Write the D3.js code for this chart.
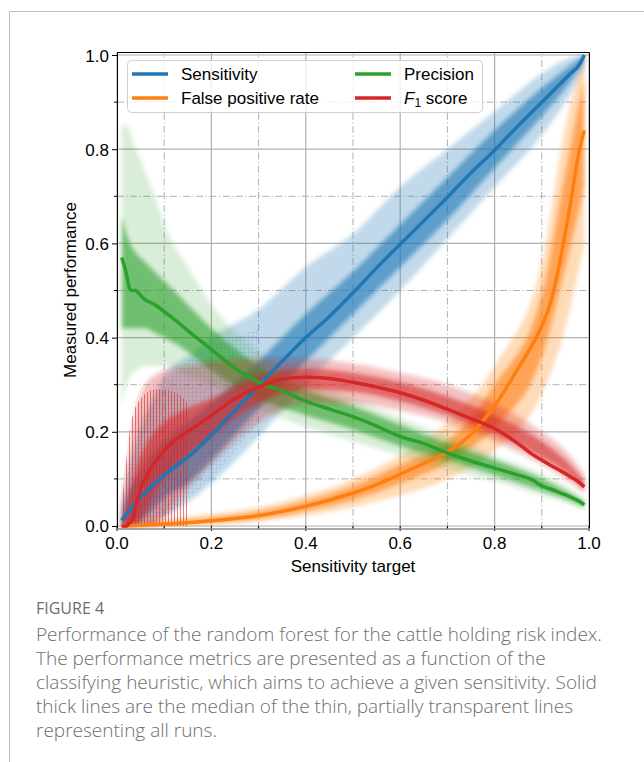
<!DOCTYPE html>
<html>
<head>
<meta charset="utf-8">
<script src="https://cdn.jsdelivr.net/npm/d3@7"></script>
<style>
  body { margin: 0; background: #fff; }
  svg { display: block; }
</style>
</head>
<body>
<div id="chart"></div>
<script>
/* medians */
var xMed = [0.01, 0.02, 0.025, 0.03, 0.035, 0.04, 0.045, 0.05, 0.06, 0.07, 0.08, 0.1, 0.12, 0.15,
            0.2, 0.25, 0.3, 0.35, 0.4, 0.45, 0.5, 0.55, 0.6, 0.65, 0.7, 0.75, 0.8, 0.85,
            0.88, 0.9, 0.92, 0.94, 0.96, 0.98, 0.99];
var sensitivity = [0.012, 0.025, 0.031, 0.038, 0.044, 0.05, 0.056, 0.062, 0.07, 0.08, 0.09, 0.108, 0.124, 0.146,
                   0.193, 0.245, 0.298, 0.35, 0.4, 0.445, 0.495, 0.548, 0.598, 0.648, 0.698, 0.75, 0.798, 0.85,
                   0.88, 0.9, 0.92, 0.94, 0.96, 0.98, 1.0];
var falsePositive = [0, 0, 0.001, 0.001, 0.001, 0.002, 0.002, 0.002, 0.002, 0.003, 0.003, 0.004, 0.005, 0.007,
                     0.011, 0.016, 0.022, 0.031, 0.042, 0.055, 0.07, 0.088, 0.11, 0.133, 0.157, 0.195, 0.255, 0.335,
                     0.385, 0.425, 0.48, 0.57, 0.68, 0.8, 0.84];
var precision = [0.57, 0.535, 0.51, 0.5, 0.5, 0.5, 0.495, 0.49, 0.48, 0.475, 0.47, 0.455, 0.44, 0.415,
                 0.375, 0.335, 0.305, 0.287, 0.265, 0.248, 0.232, 0.212, 0.19, 0.175, 0.155, 0.138, 0.123, 0.108,
                 0.098, 0.085, 0.078, 0.07, 0.062, 0.052, 0.045];
var f1 = [0, 0, 0.005, 0.01, 0.02, 0.045, 0.06, 0.08, 0.1, 0.12, 0.135, 0.16, 0.18, 0.2,
          0.235, 0.27, 0.295, 0.312, 0.316, 0.313, 0.305, 0.295, 0.283, 0.267, 0.248, 0.228, 0.207, 0.175,
          0.152, 0.14, 0.128, 0.117, 0.105, 0.092, 0.083];

/* spread of the individual runs: outer (faint) and inner (dense) envelopes */
var xBand = [0.01, 0.02, 0.04, 0.06, 0.08, 0.1, 0.15, 0.2, 0.3, 0.4, 0.5, 0.6, 0.7, 0.8, 0.9, 0.95, 0.99];
var sensOutLo = [0, 0, 0, 0, 0.01, 0.02, 0.05, 0.09, 0.19, 0.3, 0.4, 0.5, 0.61, 0.72, 0.83, 0.9, 0.97];
var sensOutHi = [0.05, 0.1, 0.18, 0.24, 0.28, 0.32, 0.36, 0.4, 0.46, 0.55, 0.62, 0.72, 0.8, 0.88, 0.96, 0.99, 1.0];
var sensInLo = [0, 0, 0.01, 0.02, 0.04, 0.06, 0.09, 0.14, 0.25, 0.35, 0.45, 0.55, 0.65, 0.76, 0.87, 0.93, 0.985];
var sensInHi = [0.03, 0.06, 0.1, 0.13, 0.16, 0.18, 0.22, 0.26, 0.35, 0.45, 0.54, 0.64, 0.74, 0.84, 0.93, 0.97, 1.0];
var fprOutLo = [0, 0, 0, 0, 0, 0.001, 0.002, 0.004, 0.01, 0.022, 0.04, 0.065, 0.1, 0.16, 0.28, 0.42, 0.6];
var fprOutHi = [0.005, 0.006, 0.008, 0.01, 0.012, 0.014, 0.02, 0.026, 0.04, 0.065, 0.1, 0.15, 0.22, 0.34, 0.56, 0.85, 1.0];
var fprInLo = [0, 0, 0, 0.001, 0.002, 0.003, 0.005, 0.007, 0.015, 0.032, 0.055, 0.09, 0.135, 0.21, 0.36, 0.55, 0.72];
var fprInHi = [0.002, 0.003, 0.004, 0.006, 0.007, 0.008, 0.012, 0.017, 0.03, 0.053, 0.085, 0.13, 0.18, 0.3, 0.49, 0.75, 0.95];
var precOutLo = [0.25, 0.3, 0.33, 0.34, 0.34, 0.34, 0.32, 0.3, 0.25, 0.21, 0.18, 0.15, 0.12, 0.095, 0.065, 0.05, 0.035];
var precOutHi = [0.85, 0.85, 0.8, 0.75, 0.7, 0.64, 0.55, 0.47, 0.37, 0.31, 0.27, 0.23, 0.19, 0.15, 0.11, 0.085, 0.058];
var precInLo = [0.42, 0.42, 0.42, 0.42, 0.41, 0.4, 0.37, 0.33, 0.27, 0.235, 0.205, 0.17, 0.14, 0.108, 0.075, 0.058, 0.04];
var precInHi = [0.66, 0.62, 0.58, 0.56, 0.54, 0.52, 0.47, 0.42, 0.34, 0.29, 0.255, 0.215, 0.175, 0.14, 0.1, 0.075, 0.052];
var f1OutLo = [0, 0, 0, 0, 0, 0.02, 0.08, 0.13, 0.22, 0.26, 0.26, 0.245, 0.22, 0.18, 0.13, 0.1, 0.07];
var f1OutHi = [0.05, 0.12, 0.25, 0.3, 0.32, 0.33, 0.34, 0.35, 0.355, 0.355, 0.345, 0.325, 0.3, 0.26, 0.2, 0.16, 0.11];
var f1InLo = [0, 0, 0, 0.03, 0.07, 0.1, 0.15, 0.19, 0.26, 0.29, 0.285, 0.265, 0.235, 0.195, 0.145, 0.115, 0.078];
var f1InHi = [0.01, 0.04, 0.12, 0.17, 0.2, 0.22, 0.25, 0.27, 0.32, 0.335, 0.325, 0.305, 0.275, 0.235, 0.18, 0.14, 0.095];

/* step-like early runs, drawn as hatching */
var xHatchF1 = [0.01, 0.02, 0.03, 0.05, 0.08, 0.1, 0.13, 0.15];
var f1HatchHi = [0.04, 0.14, 0.22, 0.27, 0.29, 0.29, 0.28, 0.26];
var xHatchSens = [0.02, 0.05, 0.1, 0.15, 0.2, 0.25, 0.3];
var sensHatchLo = [0, 0, 0.02, 0.06, 0.1, 0.16, 0.22];
var sensHatchHi = [0.1, 0.2, 0.3, 0.35, 0.38, 0.4, 0.42];

var ticks = [0, 0.2, 0.4, 0.6, 0.8, 1.0];
var minorTicks = [0.1, 0.3, 0.5, 0.7, 0.9];

var colors = {sens: "#1f77b4", fpr: "#ff7f0e", prec: "#2ca02c", f1: "#d62728"};

var series = [
    {key: "sens", med: sensitivity, outLo: sensOutLo, outHi: sensOutHi, inLo: sensInLo, inHi: sensInHi},
    {key: "fpr", med: falsePositive, outLo: fprOutLo, outHi: fprOutHi, inLo: fprInLo, inHi: fprInHi},
    {key: "prec", med: precision, outLo: precOutLo, outHi: precOutHi, inLo: precInLo, inHi: precInHi},
    {key: "f1", med: f1, outLo: f1OutLo, outHi: f1OutHi, inLo: f1InLo, inHi: f1InHi}
];

var FONT = "'Liberation Sans', Arial, sans-serif";
var W = 644, H = 762;
var svg = d3.select("#chart").append("svg").attr("width", W).attr("height", H);
var defs = svg.append("defs");

/* page frame */
svg.append("path").attr("d", "M644,11.5H9.5V762").attr("fill", "none")
    .attr("stroke", "#bdbdbd").attr("stroke-width", 1);

var x = d3.scaleLinear().domain([0, 1]).range([117, 589]);
var y = d3.scaleLinear().domain([-0.0064, 1.0064]).range([529, 52]);

defs.append("clipPath").attr("id", "clip")
  .append("rect").attr("x", 117).attr("y", 52).attr("width", 472).attr("height", 477);
defs.append("filter").attr("id", "soft").attr("x", "-10%").attr("y", "-10%").attr("width", "120%").attr("height", "120%")
  .append("feGaussianBlur").attr("stdDeviation", 2);
var pv = defs.append("pattern").attr("id", "hatchRed").attr("patternUnits", "userSpaceOnUse")
    .attr("width", 3).attr("height", 10);
pv.append("line").attr("x1", 0.5).attr("x2", 0.5).attr("y1", 0).attr("y2", 10)
    .attr("stroke", colors.f1).attr("stroke-width", 1);
var pb = defs.append("pattern").attr("id", "hatchBlue").attr("patternUnits", "userSpaceOnUse")
    .attr("width", 4).attr("height", 4);
pb.append("path").attr("d", "M0.5,0V4M0,0.5H4").attr("stroke", colors.sens).attr("stroke-width", 0.7);

var plot = svg.append("g");

/* grid */
var grid = plot.append("g");
function vlines(vals, cls) {
    return grid.selectAll("line." + cls).data(vals).enter().append("line").attr("class", cls)
        .attr("x1", function(d) { return x(d); }).attr("x2", function(d) { return x(d); })
        .attr("y1", y.range()[0]).attr("y2", y.range()[1]);
}
function hlines(vals, cls) {
    return grid.selectAll("line." + cls).data(vals).enter().append("line").attr("class", cls)
        .attr("y1", function(d) { return y(d); }).attr("y2", function(d) { return y(d); })
        .attr("x1", x.range()[0]).attr("x2", x.range()[1]);
}
vlines(ticks, "vmaj").attr("stroke", "#b0b0b0").attr("stroke-width", 1.2);
hlines(ticks, "hmaj").attr("stroke", "#b0b0b0").attr("stroke-width", 1.2);
vlines(minorTicks, "vmin").attr("stroke", "#a8a8a8").attr("stroke-width", 0.9).attr("stroke-dasharray", "7,2.5,1.2,2.5");
hlines(minorTicks, "hmin").attr("stroke", "#a8a8a8").attr("stroke-width", 0.9).attr("stroke-dasharray", "7,2.5,1.2,2.5");

/* bands */
var marks = plot.append("g").attr("clip-path", "url(#clip)");
function band(xs, lo, hi) {
    return d3.area()
        .x(function(d, i) { return x(xs[i]); })
        .y0(function(d, i) { return y(lo[i]); })
        .y1(function(d, i) { return y(hi[i]); })
        .curve(d3.curveMonotoneX)(xs);
}
series.forEach(function(s) {
    var g = marks.append("g").attr("filter", "url(#soft)");
    g.append("path").attr("d", band(xBand, s.outLo, s.outHi))
        .attr("fill", colors[s.key]).attr("fill-opacity", s.key === "prec" ? 0.18 : 0.28);
    g.append("path").attr("d", band(xBand, s.inLo, s.inHi))
        .attr("fill", colors[s.key]).attr("fill-opacity", 0.6);
    if (s.key === "sens") {
        marks.append("path").attr("d", band(xHatchSens, sensHatchLo, sensHatchHi))
            .attr("fill", "url(#hatchBlue)").attr("opacity", 0.18);
    }
    if (s.key === "f1") {
        marks.append("path").attr("d", band(xHatchF1, xHatchF1.map(function() { return 0; }), f1HatchHi))
            .attr("fill", "url(#hatchRed)").attr("opacity", 0.6);
    }
});

/* medians */
var line = function(vals) {
    return d3.line()
        .x(function(d, i) { return x(xMed[i]); })
        .y(function(d) { return y(d); })
        .curve(d3.curveMonotoneX)(vals);
};
series.forEach(function(s) {
    marks.append("path").attr("d", line(s.med))
        .attr("fill", "none").attr("stroke", colors[s.key]).attr("stroke-width", 3.5)
        .attr("stroke-linejoin", "round");
});

/* axes */
var fmt = d3.format(".1f");
var gx = plot.append("g").attr("transform", "translate(0,529)")
    .call(d3.axisBottom(x).tickValues(ticks).tickFormat(fmt).tickSize(5));
var gy = plot.append("g").attr("transform", "translate(117,0)")
    .call(d3.axisLeft(y).tickValues(ticks).tickFormat(fmt).tickSize(5));
[gx, gy].forEach(function(g) {
    g.select(".domain").remove();
    g.selectAll(".tick line").attr("stroke", "#000").attr("stroke-width", 1);
    g.selectAll(".tick text").style("font-family", FONT).style("font-size", "17px").attr("fill", "#000");
});
gx.selectAll(".tick").attr("transform", function(d) { return "translate(" + x(d) + ",-3)"; });
gx.selectAll(".tick text").attr("dy", null).attr("y", 23);
gy.selectAll(".tick text").attr("dy", null).attr("x", -8).attr("y", 6);
plot.append("g").selectAll("line").data(minorTicks).enter().append("line")
    .attr("x1", function(d) { return x(d); }).attr("x2", function(d) { return x(d); })
    .attr("y1", 526).attr("y2", 529).attr("stroke", "#000");
plot.append("g").selectAll("line").data(minorTicks).enter().append("line")
    .attr("y1", function(d) { return y(d); }).attr("y2", function(d) { return y(d); })
    .attr("x1", 114).attr("x2", 117).attr("stroke", "#000");

/* spines */
plot.append("path").attr("d", "M117.5,529V52.5H589.5V529").attr("fill", "none").attr("stroke", "#000").attr("stroke-width", 1);
plot.append("line").attr("x1", 117).attr("x2", 590).attr("y1", 529).attr("y2", 529)
    .attr("stroke", "#8a8a8a").attr("stroke-width", 1.5);

/* legend */
var leg = plot.append("g");
leg.append("rect").attr("x", 127.5).attr("y", 60.5).attr("width", 355).attr("height", 52).attr("rx", 4)
    .attr("fill", "#fff").attr("fill-opacity", 0.8).attr("stroke", "#d0d0d0");
var legItems = [
    {key: "sens", label: "Sensitivity", col: 0, row: 0},
    {key: "fpr", label: "False positive rate", col: 0, row: 1},
    {key: "prec", label: "Precision", col: 1, row: 0},
    {key: "f1", label: "F1", col: 1, row: 1}
];
legItems.forEach(function(it) {
    var lx = it.col ? 355 : 132, ly = 74 + it.row * 24;
    leg.append("line").attr("x1", lx).attr("x2", lx + 36).attr("y1", ly).attr("y2", ly)
        .attr("stroke", colors[it.key]).attr("stroke-width", 3.5);
    var t = leg.append("text").attr("x", lx + 49).attr("y", ly + 6)
        .style("font-family", FONT).style("font-size", "17px").attr("fill", "#000");
    if (it.key === "f1") {
        t.append("tspan").attr("font-style", "italic").text("F");
        t.append("tspan").style("font-size", "12px").attr("dy", 3).text("1");
        t.append("tspan").attr("dy", -3).text(" score");
    } else {
        t.text(it.label);
    }
});

/* axis labels */
svg.append("text").attr("text-anchor", "middle").attr("x", 353).attr("y", 572)
    .style("font-family", FONT).style("font-size", "17px").text("Sensitivity target");
svg.append("text").attr("text-anchor", "middle").attr("transform", "translate(76,290) rotate(-90)")
    .style("font-family", FONT).style("font-size", "17px").text("Measured performance");

/* caption */
var CAP = "'Open Sans', sans-serif";
svg.append("text").attr("x", 36).attr("y", 614).attr("fill", "#6d6e71")
    .style("font-family", CAP).style("font-size", "16px").style("font-weight", 400).text("FIGURE 4");
var capLines = [
    "Performance of the random forest for the cattle holding risk index.",
    "The performance metrics are presented as a function of the",
    "classifying heuristic, which aims to achieve a given sensitivity. Solid",
    "thick lines are the median of the thin, partially transparent lines",
    "representing all runs."
];
svg.selectAll("text.capl").data(capLines).enter().append("text").attr("class", "capl")
    .attr("x", 36).attr("y", function(d, i) { return 641 + i * 24; }).attr("fill", "#6d6e71")
    .style("font-family", CAP).style("font-size", "19px").style("font-weight", 300)
    .text(function(d) { return d; });
</script>
</body>
</html>
